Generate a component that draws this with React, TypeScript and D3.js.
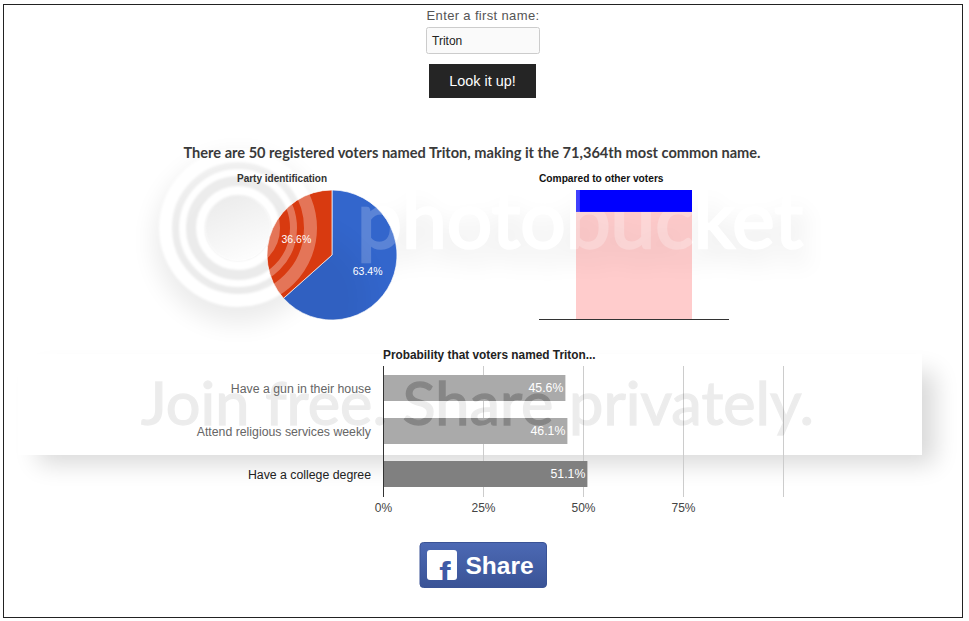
import React from "react";
import * as d3 from "d3";

const W = 969, H = 621;
const partyNames = ["Democrat", "Republican"];
const partyValues = [63.4, 36.6];
const partyColors = ["#3366cc", "#d83a10"];
const compareNames = ["other", "named"];
const compareValues = [83, 17];
const compareColors = ["#ffcccc", "#0000ff"];
const probCategories = ["Have a gun in their house", "Attend religious services weekly", "Have a college degree"];
const probValues = [45.6, 46.1, 51.1];
const probColors = ["#aaaaaa", "#aaaaaa", "#808080"];
const probTicks = [0, 25, 50, 75, 100];
const tickLabels = ["0%", "25%", "50%", "75%", ""];
const ringRadii = [37.5, 55.5, 72.5];
const ringWidths = [9, 7, 13];

const sans = "'Liberation Sans', Arial, sans-serif";
const wmFont = "Lato,'Open Sans',sans-serif";

function PhotoText({ fill, opacity, filter, dx = 0, dy = 0, stroke = 0 }: any) {
  return (
    <text x={357 + dx} y={248 + dy} fontFamily={wmFont} fontSize={80} fill={fill} opacity={opacity} filter={filter}
      stroke={stroke ? fill : "none"} strokeWidth={stroke} textLength={446} lengthAdjust="spacingAndGlyphs">photobucket</text>
  );
}

export default function App() {
  const pie = d3.pie<number>().sort(null)(partyValues);
  const arc = d3.arc<d3.PieArcDatum<number>>().innerRadius(0).outerRadius(65);
  const labelArc = d3.arc<d3.PieArcDatum<number>>().innerRadius(39).outerRadius(39);

  const x = d3.scaleLinear().domain([0, 100]).range([383, 783]);
  const cx = d3.scaleBand<string>().domain(["x"]).range([539, 729]).padding(0.2418);
  const cy = d3.scaleLinear().domain([0, 100]).range([319, 190]);
  const stack = d3.stack<any>().keys(compareNames)([{ other: compareValues[0], named: compareValues[1] }]);

  const yTop = 375;
  const barH = 26;
  const step = 43;

  const joinText = (extra: any) => (
    <text x={141} y={425} fontFamily={wmFont} fontSize={60} fill="#000" stroke="#000" strokeWidth={1.4} textLength={673} lengthAdjust="spacingAndGlyphs" {...extra}>Join free. Share privately.</text>
  );

  return (
    <svg width={W} height={H} viewBox={`0 0 ${W} ${H}`} style={{ position: "absolute", left: 0, top: 0, background: "#fff" }} fontFamily={sans}>
      <defs>
        <filter id="b14" x="-60%" y="-120%" width="220%" height="340%"><feGaussianBlur stdDeviation="14" /></filter>
        <filter id="b12" x="-30%" y="-80%" width="160%" height="260%"><feGaussianBlur stdDeviation="12" /></filter>
        <filter id="b1" x="-20%" y="-20%" width="140%" height="140%"><feGaussianBlur stdDeviation="1.2" /></filter>
        <linearGradient id="fbg" x1="0" y1="0" x2="0" y2="1">
          <stop offset="0" stopColor="#4c69b4" />
          <stop offset="1" stopColor="#3a5396" />
        </linearGradient>
        <linearGradient id="discFade" x1="0.2" y1="0" x2="0.6" y2="1">
          <stop offset="0" stopColor="#fff" stopOpacity={0} />
          <stop offset="1" stopColor="#fff" stopOpacity={0.9} />
        </linearGradient>
        <clipPath id="redClip"><path d={arc(pie[1]) as string} transform="translate(332,255)" /></clipPath>
        <clipPath id="blueClip"><path d={arc(pie[0]) as string} transform="translate(332,255)" /></clipPath>
        <clipPath id="pinkClip">
          <rect x={cx("x")} y={212} width={cx.bandwidth()} height={107} />
          <rect x={cx("x")} y={190} width={4} height={22} />
        </clipPath>
        <clipPath id="barClip">
          {probCategories.slice(0, 2).map((c, i) => (
            <rect key={c} x={x(0)} y={yTop + i * step} width={x(probValues[i]) - x(0)} height={barH} />
          ))}
        </clipPath>
        <clipPath id="fClip"><rect x={427} y={550} width={30} height={30} rx={3} /></clipPath>
      </defs>

      {/* watermark: shadows and light shapes under the page */}
      <circle cx={238} cy={240} r={84} fill="#000" opacity={0.075} filter="url(#b12)" />
      <PhotoText fill="#000" opacity={0.075} filter="url(#b12)" dx={6} dy={14} stroke={3} />
      <rect x={38} y={372} width={897} height={92} fill="#000" opacity={0.15} filter="url(#b12)" />
      <rect x={18} y={354} width={904} height={101} fill="#fff" />
      <circle cx={238} cy={228} r={33} fill="url(#discFade)" />
      {ringRadii.map((r, i) => (
        <circle key={r} cx={238} cy={228} r={r} fill="none" stroke="#fff" strokeWidth={ringWidths[i]} filter="url(#b1)" />
      ))}
      <PhotoText fill="#fff" stroke={2.5} />

      {/* frame */}
      <rect x={3.5} y={4.5} width={959} height={613} fill="none" stroke="#222" strokeWidth={1} />

      {/* form */}
      <text x={483} y={20} textAnchor="middle" fontSize={13} fontFamily={sans} letterSpacing={0.35} fill="#555">Enter a first name:</text>
      <rect x={426.5} y={27.5} width={113} height={26} rx={2} fill="#fafafa" stroke="#ccc" />
      <text x={432} y={45} fontSize={12} fill="#222">Triton</text>
      <rect x={429} y={64} width={107} height={34} fill="#252525" />
      <text x={482.5} y={86} textAnchor="middle" fontSize={14.4} fill="#fff">Look it up!</text>

      <text x={472} y={158} textAnchor="middle" fontSize={14.6} fontWeight={700} fontFamily={wmFont} fill="#3a3a3a">There are 50 registered voters named Triton, making it the 71,364th most common name.</text>

      {/* pie */}
      <text x={237} y={182} fontSize={10} fontWeight={700} fill="#333">Party identification</text>
      <g transform="translate(332,255)">
        {pie.map((d, i) => <path key={i} d={arc(d) as string} fill={partyColors[i]} stroke="#fff" strokeWidth={0.7} />)}
      </g>
      <g clipPath="url(#redClip)" opacity={0.3}>
        {ringRadii.map((r, i) => (
          <circle key={r} cx={238} cy={228} r={r} fill="none" stroke="#fff" strokeWidth={ringWidths[i]} />
        ))}
      </g>
      <g clipPath="url(#blueClip)">
        <PhotoText fill="#fff" opacity={0.2} stroke={2.5} />
        <circle cx={300} cy={300} r={70} fill="#000" opacity={0.05} filter="url(#b14)" />
      </g>
      <g transform="translate(332,255)" fontSize={10.5} fill="#fff" textAnchor="middle">
        {pie.map((d, i) => {
          const [a, b] = labelArc.centroid(d);
          return <text key={i} x={a} y={b + 4}>{partyValues[i].toFixed(1)}%</text>;
        })}
      </g>

      {/* compared */}
      <text x={539} y={182} fontSize={10.2} fontWeight={700} fill="#111">Compared to other voters</text>
      {stack.map((s, i) => (
        <rect key={s.key} x={cx("x")} width={cx.bandwidth()} y={cy(s[0][1])} height={cy(s[0][0]) - cy(s[0][1])} fill={compareColors[i]} />
      ))}
      <g clipPath="url(#pinkClip)">
        <PhotoText fill="#000" opacity={0.06} filter="url(#b12)" dx={6} dy={14} stroke={3} />
        <PhotoText fill="#fff" opacity={0.25} stroke={2.5} />
      </g>
      <line x1={539} x2={729} y1={319.5} y2={319.5} stroke="#333" />

      {/* bars */}
      <text x={383} y={359} fontSize={11.85} fontWeight={700} fill="#222">Probability that voters named Triton...</text>
      {probTicks.slice(1).map(t => (
        <line key={t} x1={x(t) + 0.5} x2={x(t) + 0.5} y1={366} y2={497} stroke="#ccc" />
      ))}
      {probCategories.map((c, i) => (
        <rect key={c} x={x(0)} y={yTop + i * step} width={x(probValues[i]) - x(0)} height={barH} fill={probColors[i]} />
      ))}
      <line x1={383.5} x2={383.5} y1={366} y2={497} stroke="#333" />

      {/* watermark text over the chart */}
      {joinText({ opacity: 0.07 })}
      <g clipPath="url(#barClip)">{joinText({ opacity: 0.14 })}</g>

      {probCategories.map((c, i) => (
        <g key={c}>
          <text x={371} y={yTop + i * step + 17.6} textAnchor="end" fontSize={12.3} fill={i === 2 ? "#222" : "#666"}>{c}</text>
          <text x={x(probValues[i]) - 2} y={yTop + i * step + 17} textAnchor="end" fontSize={12.3} fill="#fff">{probValues[i].toFixed(1)}%</text>
        </g>
      ))}
      {probTicks.map((t, i) => (
        <text key={t} x={x(t) + 0.5} y={512} textAnchor="middle" fontSize={12} fill="#444">{tickLabels[i]}</text>
      ))}

      {/* share */}
      <rect x={420} y={542.5} width={126.5} height={45} rx={3.5} fill="url(#fbg)" stroke="#3a5396" />
      <rect x={427} y={550} width={30} height={30} rx={3} fill="#fff" />
      <g clipPath="url(#fClip)">
        <text x={445} y={585} textAnchor="middle" fontSize={34} fontWeight={700} fill="#3f5aa6">f</text>
      </g>
      <text x={465.5} y={573.5} fontSize={24.5} fontWeight={700} fill="#fff">Share</text>
    </svg>
  );
}
